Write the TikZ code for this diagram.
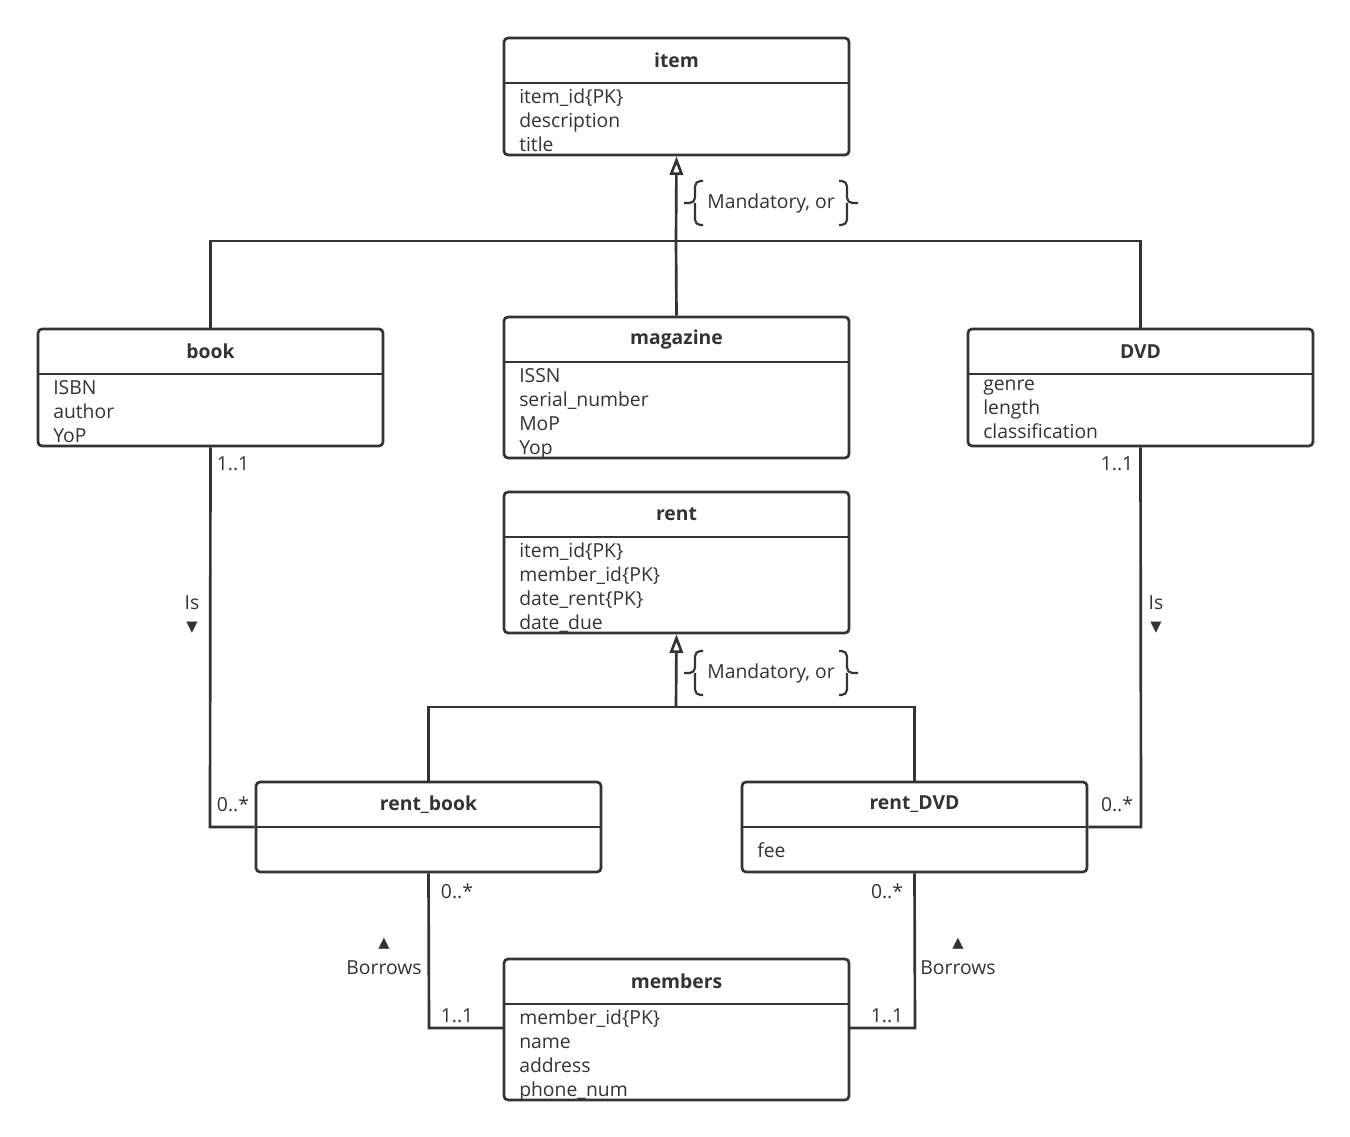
\documentclass[tikz,border=0pt]{standalone}
\usepackage{fontspec}
\setmainfont{Open Sans}
\newfontfamily\symf{DejaVu Sans}
\usetikzlibrary{fit,arrows.meta}
\definecolor{ln}{HTML}{333333}
\tikzset{
 umlbox/.style={draw=ln,line width=2pt,rounded corners=3pt,inner sep=0pt},
 conn/.style={draw=ln,line width=2pt},
 brc/.style={draw=ln,line width=1.6pt,rounded corners=4pt},
 gen/.style={conn,-{Triangle[open,length=14pt,width=10pt]}},
 lbl/.style={font=\fontsize{14.5}{17}\selectfont,text=ln,inner sep=1pt},
 sym/.style={font=\symf\fontsize{11}{12}\selectfont,text=ln,inner sep=1pt},
 ttl/.style={font=\bfseries\fontsize{14.5}{17}\selectfont,text=ln},
 attr/.style={font=\fontsize{14.5}{18}\selectfont,text=ln,align=left,anchor=north west,inner sep=0pt}
}
\newcommand{\umlbx}[8]{%
 \node[umlbox,fit={(#2,#3)(#4,#5)}] (#1) {};
 \draw[conn] (#2,#6) -- (#4,#6);
 \node[ttl] (#1-t) at ({(#2+#4)/2},{(#3+#6)/2}) {#7};
 \node[attr] (#1-a) at ({#2+15},{#6+6}) {#8};
}
\newcommand{\bracepair}[1]{%
 \draw[brc] (703,#1-22) -- (695,#1-22) -- (695,#1) -- (684,#1);
 \draw[brc] (703,#1+22) -- (695,#1+22) -- (695,#1);
 \draw[brc] (839,#1-22) -- (847,#1-22) -- (847,#1) -- (858,#1);
 \draw[brc] (839,#1+22) -- (847,#1+22) -- (847,#1);
}
\begin{document}
\begin{tikzpicture}[x=0.75pt,y=-0.75pt]
\useasboundingbox (0,0) rectangle (1350,1137);
\umlbx{item}{504}{38}{849}{155}{83}{item}{item\_id\{PK\}\\description\\title}
\umlbx{book}{38}{329}{383}{446}{374}{book}{ISBN\\author\\YoP}
\umlbx{magazine}{504}{317}{849}{458}{362}{magazine}{ISSN\\serial\_number\\MoP\\Yop}
\umlbx{dvd}{968}{329}{1313}{446}{374}{DVD}{genre\\length\\classification}
\umlbx{rent}{504}{492}{849}{633}{537}{rent}{item\_id\{PK\}\\member\_id\{PK\}\\date\_rent\{PK\}\\date\_due}
\umlbx{rentbook}{256}{782}{601}{872}{827}{rent\_book}{}
\umlbx{rentdvd}{742}{782}{1087}{872}{827}{rent\_DVD}{}
\node[attr,anchor=west] (fee) at (757,850) {fee};
\umlbx{members}{504}{959}{849}{1100}{1004}{members}{member\_id\{PK\}\\name\\address\\phone\_num}
% generalization item
\coordinate (j1) at (676,241);
\draw[gen] (j1) -- (item.south);
\draw[conn] (book.north) |- (j1) -| (dvd.north);
\draw[conn] (j1) -- (magazine.north);
\node[lbl] (m1) at (771,203) {Mandatory, or};
\bracepair{203}
% generalization rent
\coordinate (j2) at (676,707);
\draw[gen] (j2) -- (rent.south);
\draw[conn] (rentbook.north) |- (j2) -| (rentdvd.north);
\node[lbl] (m2) at (771,673) {Mandatory, or};
\bracepair{673}
% book - rent_book
\coordinate (c1) at (210,827);
\draw[conn] (book.south) -- (c1) -- (rentbook.west);
\node[lbl] (l1) at (233,464) {1..1};
\node[lbl] (l2) at (233,804) {0..*};
\node[lbl] (l3) at (192,603) {Is};
\node[sym] (l4) at (192,628) {▼};
% dvd - rent_dvd
\coordinate (c2) at (1141,827);
\draw[conn] (dvd.south) -- (c2) -- (rentdvd.east);
\node[lbl] (l5) at (1117,464) {1..1};
\node[lbl] (l6) at (1117,804) {0..*};
\node[lbl] (l7) at (1156,603) {Is};
\node[sym] (l8) at (1156,628) {▼};
% rent_book - members
\coordinate (c3) at (429,1028);
\draw[conn] (rentbook.south) -- (c3) -- (504,1028);
\node[lbl] (l9) at (457,891) {0..*};
\node[lbl] (l10) at (457,1016) {1..1};
\node[sym] (l11) at (384,944) {▲};
\node[lbl] (l12) at (384,968) {Borrows};
% rent_dvd - members
\coordinate (c4) at (915,1028);
\draw[conn] (rentdvd.south) -- (c4) -- (849,1028);
\node[lbl] (l13) at (887,891) {0..*};
\node[lbl] (l14) at (887,1016) {1..1};
\node[sym] (l15) at (958,944) {▲};
\node[lbl] (l16) at (958,968) {Borrows};
\end{tikzpicture}
\end{document}
